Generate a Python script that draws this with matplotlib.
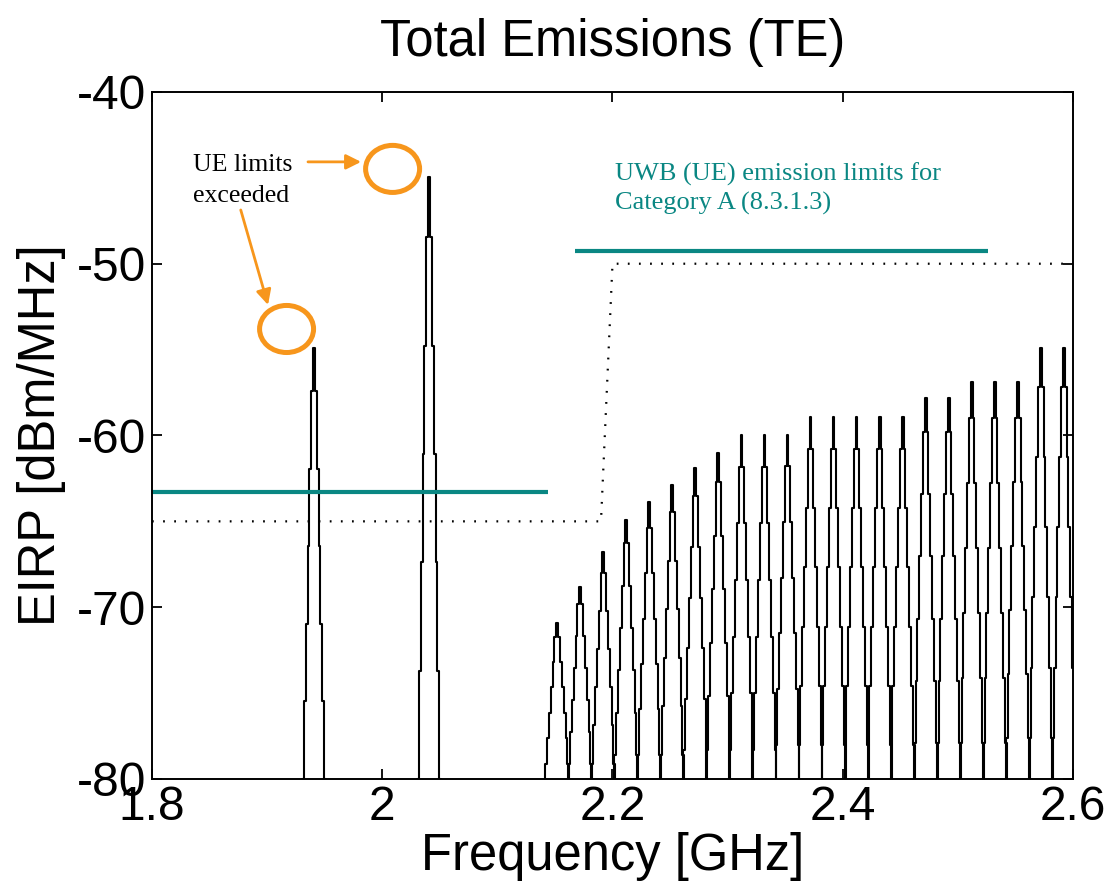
import matplotlib
matplotlib.use('Agg')
import matplotlib.pyplot as plt
from matplotlib.patches import Ellipse
import numpy as np

BLACK = '#000000'
TEAL = '#0a8783'
ORANGE = '#f7961c'

plt.rcParams['font.family'] = ['Liberation Sans', 'DejaVu Sans']
plt.rcParams['axes.unicode_minus'] = False

# isolated carriers below 2.1 GHz (centre GHz, peak dBm/MHz)
peak_freqs = [1.9407, 2.0407]
peak_tops = [-54.9, -44.95]
peak_valleys = [-80.0, -80.0]

# comb of carriers above 2.14 GHz
comb_freqs = [2.152, 2.172, 2.192, 2.212, 2.232, 2.252, 2.272, 2.292,
              2.312, 2.332, 2.352, 2.372, 2.392, 2.412, 2.432, 2.452,
              2.472, 2.492, 2.512, 2.532, 2.552, 2.572, 2.592]
comb_tops = [-70.9, -68.8, -66.8, -64.9, -63.9, -62.9, -61.9, -61.0,
             -60.0, -60.0, -60.0, -58.9, -58.9, -58.9, -58.9, -58.9,
             -57.8, -57.8, -56.9, -56.9, -56.9, -54.9, -54.9]
comb_valleys = [-79.1, -79.1, -79.1, -78.6, -78.6, -78.6, -78.3, -78.3,
                -78.3, -78.3, -78.0, -78.0, -78.0, -78.0, -78.0, -78.0,
                -77.9, -77.9, -77.9, -77.9, -77.6, -77.6, -77.6]

# staircase shape of one carrier: share of the top-to-valley drop per step
profile_frac = [0.0, 0.1, 0.28, 0.46, 0.64, 0.82, 1.0]

# limit masks
mask_freqs = [1.8, 2.19, 2.2, 2.6]
mask_levels = [-65, -65, -50, -50]
ue_low_freqs = [1.8, 2.144]
ue_low_level = [-63.3, -63.3]
ue_high_freqs = [2.1675, 2.5263]
ue_high_level = [-49.25, -49.25]

STEP = 0.0016   # GHz per stair step
FLOOR = -85


def stair_peak(center, top, valley):
    """Stepped carrier line, dropping to the floor at both ends"""
    n = len(profile_frac) - 1
    levels = [top - (top - valley) * profile_frac[abs(k)] for k in range(-n, n + 1)]
    edges = [center + (j - n - 0.5) * STEP for j in range(2 * n + 2)]
    xs = [edges[0]] + edges
    ys = [FLOOR] + levels + [FLOOR]
    return xs, ys


fig = plt.figure(figsize=(11.11, 8.92), dpi=100)
fig.patch.set_facecolor('white')
ax = fig.add_axes([0.1368, 0.1267, 0.829, 0.7702])

for f, t, v in zip(peak_freqs + comb_freqs, peak_tops + comb_tops,
                   peak_valleys + comb_valleys):
    xs, ys = stair_peak(f, t, v)
    ax.plot(xs, ys, color=BLACK, lw=1.5, drawstyle='steps-post')

ax.plot(mask_freqs, mask_levels, color=BLACK, lw=1.6, linestyle=(0, (0.8, 4.2)))
ax.plot(ue_low_freqs, ue_low_level, color=TEAL, lw=3, solid_capstyle='butt')
ax.plot(ue_high_freqs, ue_high_level, color=TEAL, lw=3, solid_capstyle='butt')

ax.set_xlim(1.8, 2.6)
ax.set_ylim(-80, -40)
ax.set_xticks([1.8, 2.0, 2.2, 2.4, 2.6])
ax.set_xticklabels(['1.8', '2', '2.2', '2.4', '2.6'])
ax.set_yticks([-80, -70, -60, -50, -40])
ax.tick_params(direction='in', length=7, width=1.3, labelsize=34.5,
               top=True, right=True, pad=4)
for s in ax.spines.values():
    s.set_linewidth(1.4)

ax.set_xlabel('Frequency [GHz]', fontsize=36.5, labelpad=2)
ax.set_ylabel('EIRP [dBm/MHz]', fontsize=36.5, labelpad=8)
ax.set_title('Total Emissions (TE)', fontsize=36.5, pad=26)

# annotations (baseline of the last line)
ax.text(2.2024, -46.87, 'UWB (UE) emission limits for\nCategory A (8.3.1.3)',
        family=['Liberation Serif'], fontsize=19, color=TEAL,
        va='baseline', ha='left', linespacing=1.38)
ax.text(1.8355, -46.40, 'UE limits\nexceeded', family=['Liberation Serif'],
        fontsize=18.5, color=BLACK, va='baseline', ha='left', linespacing=1.5)

for cx, cy in [(2.009, -44.48), (1.9169, -53.8)]:
    ax.add_patch(Ellipse((cx, cy), 0.0469, 2.74, fill=False,
                         edgecolor=ORANGE, lw=3.6))

arrow = dict(arrowstyle='-|>,head_length=0.9,head_width=0.45', color=ORANGE,
             lw=2, shrinkA=0, shrinkB=0)
ax.annotate('', xy=(1.9816, -44.07), xytext=(1.9355, -44.07), arrowprops=arrow)
ax.annotate('', xy=(1.9008, -52.40), xytext=(1.8771, -46.87), arrowprops=arrow)

plt.savefig('out.png', dpi=100, facecolor='white')
